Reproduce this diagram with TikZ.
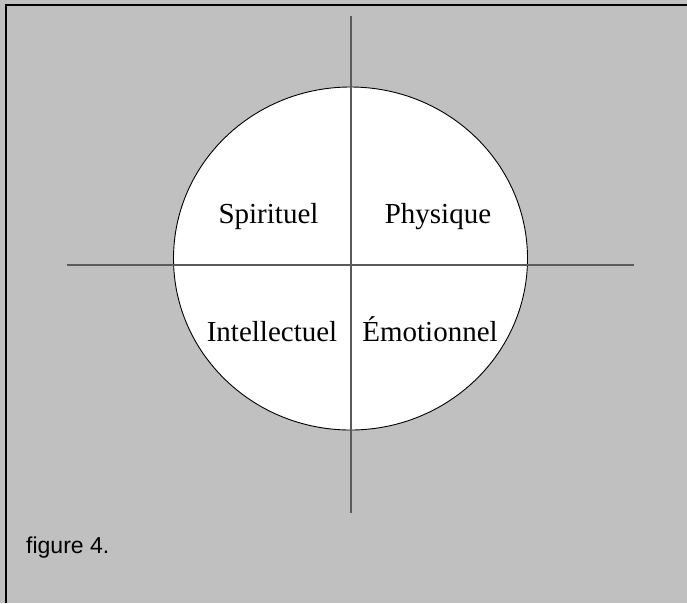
\documentclass[tikz,border=0pt]{standalone}
\usepackage{fontspec}
\setmainfont{Liberation Serif}
\newfontfamily\captionfont{Liberation Sans}
\definecolor{panelgray}{RGB}{192,192,192}
\definecolor{axisgray}{RGB}{90,90,90}

\begin{document}
\begin{tikzpicture}[
    x=1pt, y=-1pt,
    axis/.style={draw=axisgray, line width=1.8pt},
    quadrant/.style={anchor=base, inner sep=0pt, font=\fontsize{29}{34}\selectfont},
    caption/.style={anchor=base west, inner sep=0pt, font=\captionfont\fontsize{23}{27}\selectfont}
]
    \useasboundingbox (0,0) rectangle (687,603);

    % Background panel and frame
    \fill[panelgray] (0,0) rectangle (687,603);
    \draw[line width=2.2pt] (6,603) -- (6,5) -- (687,5);

    % The wheel
    \draw[fill=white, line width=0.9pt] (350.5,258.5) ellipse [x radius=177, y radius=171.5];

    % Axes
    \coordinate (top) at (351,16);
    \coordinate (bottom) at (351,513);
    \coordinate (left) at (67,265);
    \coordinate (right) at (634,265);
    \draw[axis] (top) -- (bottom);
    \draw[axis] (left) -- (right);

    % Quadrant labels
    \node[quadrant] (spirit) at (268.5,223) {Spirituel};
    \node[quadrant] (phys) at (438,223) {Physique};
    \node[quadrant] (intel) at (272,341) {Intellectuel};
    \node[quadrant] (emot) at (430,341) {Émotionnel};

    % Caption
    \node[caption] (fig) at (26,553) {figure 4.};
\end{tikzpicture}
\end{document}
